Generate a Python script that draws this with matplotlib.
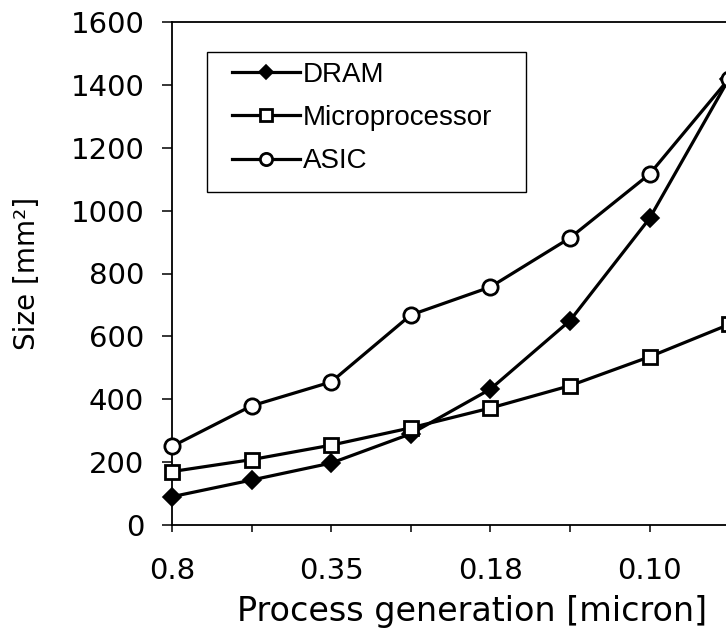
import matplotlib
matplotlib.use("Agg")
import matplotlib.pyplot as plt
from matplotlib.patches import Rectangle

# ---- data ----
x_labels = ['0.8', '', '0.35', '', '0.18', '', '0.10', '']
dram = [90, 143, 197, 290, 432, 650, 975, 1420]
micro = [170, 208, 254, 309, 372, 443, 535, 638]
asic = [250, 379, 455, 668, 757, 913, 1116, 1420]
y_ticks = [0, 200, 400, 600, 800, 1000, 1200, 1400, 1600]

W, H = 726, 641
fig = plt.figure(figsize=(W / 100, H / 100), dpi=100)
ax = fig.add_axes([172 / W, 1 - 525 / H, 573 / W, 503 / H])

x = list(range(len(x_labels)))
lw = 2.3
ax.plot(x, dram, color='black', lw=lw, marker='D', ms=9.5, mfc='black', mec='black',
        mew=1.2, label='DRAM', clip_on=False, zorder=3)
ax.plot(x, micro, color='black', lw=lw, marker='s', ms=10.5, mfc='white', mec='black',
        mew=2.0, label='Microprocessor', clip_on=False, zorder=3)
ax.plot(x, asic, color='black', lw=lw, marker='o', ms=11, mfc='white', mec='black',
        mew=2.0, label='ASIC', clip_on=False, zorder=4)

ax.set_xlim(0, 7.2)
ax.set_ylim(0, 1600)
ax.set_xticks(x)
ax.set_xticklabels(x_labels)
ax.set_yticks(y_ticks)
ax.set_yticklabels([str(v) for v in y_ticks])

for lab in ax.get_xticklabels() + ax.get_yticklabels():
    lab.set_fontfamily('DejaVu Sans')
    lab.set_fontsize(21)

ax.tick_params(axis='y', direction='out', length=7, width=1.1, pad=13)
ax.tick_params(axis='x', direction='out', length=5, width=1.1, pad=18)
for s in ['left', 'top', 'bottom', 'right']:
    ax.spines[s].set_linewidth(1.3)

fig.text(472 / W, 1 - 612 / H, 'Process generation [micron]', ha='center', va='center',
         family='DejaVu Sans', fontsize=24)
fig.text(27 / W, 1 - 273 / H, 'Size [mm²]', ha='center', va='center', rotation=90,
         family='DejaVu Sans', fontsize=20)

# legend frame
fig.patches.append(Rectangle((207 / W, 1 - 192 / H), (526 - 207) / W, (192 - 52) / H,
                             transform=fig.transFigure, fill=False, ec='black', lw=1.0))
fig.legend(loc='upper left', bbox_to_anchor=(232 / W, 1 - 62 / H), borderpad=0,
           borderaxespad=0, handlelength=2.45, handletextpad=0.1, labelspacing=0.62,
           frameon=False, markerscale=0.8, prop=dict(family='Liberation Sans', size=20))

fig.savefig('out.png', dpi=100, facecolor='white')
